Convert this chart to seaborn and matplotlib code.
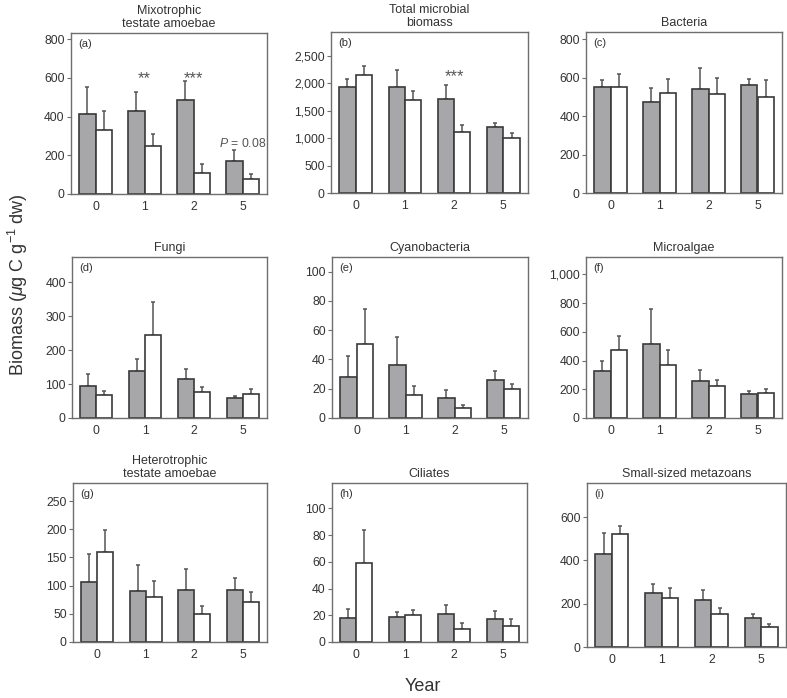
import numpy as np
import pandas as pd
import matplotlib
matplotlib.use('Agg')
import matplotlib.pyplot as plt
import seaborn as sns
from matplotlib.ticker import StrMethodFormatter

# %%
years = ['0', '1', '2', '5']
groups = ['grey', 'white']

titles = ['Mixotrophic\ntestate amoebae', 'Total microbial\nbiomass', 'Bacteria',
          'Fungi', 'Cyanobacteria', 'Microalgae',
          'Heterotrophic\ntestate amoebae', 'Ciliates', 'Small-sized metazoans']
letters = ['(a)', '(b)', '(c)', '(d)', '(e)', '(f)', '(g)', '(h)', '(i)']

# mean biomass (grey bars / white bars) and upper error
grey_means = [
    [414, 431, 486, 171],
    [1940, 1928, 1720, 1208],
    [550, 476, 539, 562],
    [93, 140, 116, 59],
    [27.7, 35.9, 13.9, 26.3],
    [324, 515, 261, 168],
    [107, 91, 93, 93],
    [18.1, 18.9, 20.8, 17.4],
    [429, 248, 215, 134],
]
white_means = [
    [331, 248, 107, 76],
    [2147, 1702, 1122, 1000],
    [553, 522, 515, 501],
    [67, 246, 77, 71],
    [50.3, 15.8, 6.9, 20.1],
    [473, 368, 226, 172],
    [160, 80, 50, 71],
    [59.5, 20.3, 9.9, 12.2],
    [520, 226, 152, 94],
]
grey_err = [
    [141, 95, 98, 55],
    [146, 323, 256, 73],
    [36, 72, 111, 33],
    [37, 35, 30, 6],
    [14.8, 19.6, 5.5, 5.9],
    [75, 245, 70, 23],
    [49, 46, 37, 20],
    [6.5, 3.2, 7.2, 5.9],
    [95, 41, 50, 17],
]
white_err = [
    [100, 61, 46, 26],
    [171, 152, 128, 104],
    [68, 73, 83, 85],
    [13, 95, 14, 16],
    [24.5, 6.1, 2.2, 3.0],
    [98, 103, 42, 33],
    [39, 29, 13, 18],
    [24.4, 4.0, 4.0, 4.7],
    [38, 46, 26, 11],
]

y_max = [832, 2940, 838, 475, 110, 1121, 282, 119, 757]
y_step = [200, 500, 200, 100, 20, 200, 50, 20, 200]
y_top_tick = [800, 2500, 800, 400, 100, 1000, 250, 100, 600]

# significance labels: (panel, year index, baseline y value, text)
sig_panel = [0, 0, 0, 1]
sig_year = [1, 2, 3, 2]
sig_y = [574, 574, 243, 2037]
sig_text = ['**', '***', r'$P$ = 0.08', '***']

# %%
sns.set_style('ticks')
plt.rcParams['font.family'] = ['Liberation Sans', 'DejaVu Sans']
plt.rcParams['mathtext.fontset'] = 'custom'
plt.rcParams['mathtext.rm'] = 'Liberation Sans'
plt.rcParams['mathtext.it'] = 'Liberation Sans:italic'

W, H = 787, 698
fig = plt.figure(figsize=(W / 100, H / 100), dpi=100)

# axes boxes in pixels (left, top, right, bottom)
boxes = [(71, 33, 267, 194), (331, 32, 528, 193), (586, 32, 782, 193),
         (72, 257, 267, 418), (332, 257, 528, 418), (586, 257, 782, 418),
         (73, 483, 267, 642), (332, 483, 527, 642), (587, 483, 786, 647)]

txt = '#333333'
edge = '#3a3a3a'
frame = '#6e6e6e'

for i in range(9):
    l, t, r, b = boxes[i]
    ax = fig.add_axes([l / W, 1 - b / H, (r - l) / W, (b - t) / H])

    df = pd.DataFrame({
        'Year': years * 2,
        'Group': ['grey'] * 4 + ['white'] * 4,
        'Biomass': grey_means[i] + white_means[i],
    })
    sns.barplot(data=df, x='Year', y='Biomass', hue='Group', order=years,
                hue_order=groups, palette={'grey': '#a6a7ab', 'white': 'white'},
                width=0.66, errorbar=None, edgecolor=edge, linewidth=1.2,
                legend=False, ax=ax)

    for cont, errs in zip(ax.containers, [grey_err[i], white_err[i]]):
        xs = [p.get_x() + p.get_width() / 2 for p in cont]
        hs = [p.get_height() for p in cont]
        ax.errorbar(xs, hs, yerr=[np.zeros(4), errs], fmt='none',
                    ecolor='#555555', elinewidth=1.1, capsize=1.7, capthick=1.1,
                    zorder=0.5)

    ax.set_xlim(-0.5, 3.5)
    ax.set_ylim(0, y_max[i])
    ax.set_yticks(np.arange(0, y_top_tick[i] + 1, y_step[i]))
    if y_top_tick[i] >= 1000:
        ax.yaxis.set_major_formatter(StrMethodFormatter('{x:,.0f}'))
    ax.set_xlabel('')
    ax.set_ylabel('')
    ax.tick_params(axis='x', length=0, pad=5, labelsize=8.8, labelcolor=txt)
    ax.tick_params(axis='y', length=3, width=0.8, pad=1.5, labelsize=8.8,
                   labelcolor=txt, color=frame)
    for s in ax.spines.values():
        s.set_visible(True)
        s.set_color(frame)
        s.set_linewidth(1.0)

    ax.set_title(titles[i], fontsize=9, color=txt, pad=4, linespacing=1.15)
    ax.text(0.035, 0.965, letters[i], transform=ax.transAxes, ha='left', va='top',
            fontsize=8, color=txt)

    for p, yi, yv, st in zip(sig_panel, sig_year, sig_y, sig_text):
        if p == i:
            ax.text(yi, yv, st, ha='center', va='baseline',
                    fontsize=12 if '*' in st else 8.8, color='#555555')

fig.text(0.023, 0.592, r'Biomass ($\mu$g C g$^{-1}$ dw)', rotation=90,
         ha='center', va='center', fontsize=13, color=txt)
fig.text(0.537, 0.016, 'Year', ha='center', va='center', fontsize=13, color=txt)

fig.savefig('out.png', dpi=100)
